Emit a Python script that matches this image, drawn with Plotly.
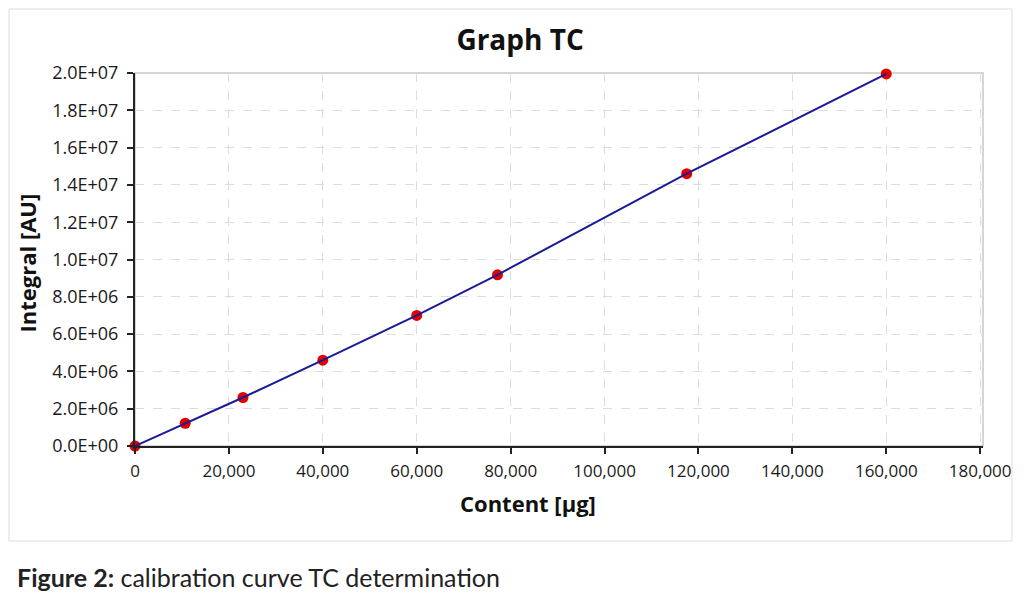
import plotly.graph_objects as go

# calibration points
content_ug = [0, 10700, 23000, 40000, 60000, 77200, 117500, 160000]
integral_au = [0, 1.22e6, 2.6e6, 4.6e6, 7.0e6, 9.18e6, 14.6e6, 19.95e6]

y_tick_vals = [0, 2e6, 4e6, 6e6, 8e6, 1e7, 1.2e7, 1.4e7, 1.6e7, 1.8e7, 2e7]
y_tick_text = ["0.0E+00", "2.0E+06", "4.0E+06", "6.0E+06", "8.0E+06", "1.0E+07",
               "1.2E+07", "1.4E+07", "1.6E+07", "1.8E+07", "2.0E+07"]
x_tick_vals = [0, 20000, 40000, 60000, 80000, 100000, 120000, 140000, 160000, 180000]
x_tick_text = ["0", "20,000", "40,000", "60,000", "80,000", "100,000",
               "120,000", "140,000", "160,000", "180,000"]

font = "Open Sans"

fig = go.Figure()
fig.add_trace(go.Scatter(
    x=content_ug, y=integral_au, mode="markers",
    marker=dict(color="#e00000", size=11),
    cliponaxis=False, showlegend=False,
))
fig.add_trace(go.Scatter(
    x=content_ug, y=integral_au, mode="lines",
    line=dict(color="#1a1a96", width=2),
    cliponaxis=False, showlegend=False,
))

axis_common = dict(
    showgrid=True, gridcolor="#dcdcdc", griddash="dash", gridwidth=1,
    showline=True, linecolor="#222222", linewidth=2,
    ticks="outside", ticklen=6, tickcolor="#222222", tickwidth=2,
    zeroline=False,
)

# page body has an 8px margin
fig.update_layout(
    width=1016, height=590,
    paper_bgcolor="white", plot_bgcolor="white",
    margin=dict(l=127, r=41, t=65, b=152),
    title=dict(text="<b>Graph TC</b>", x=0.504, xanchor="center", y=0.9458, yanchor="middle",
               font=dict(family=font, size=28, color="#111111")),
    xaxis=dict(range=[0, 180600], tickvals=x_tick_vals, ticktext=x_tick_text,
               ticklabelstandoff=3, tickfont=dict(family=font, size=17, color="#1a1a1a"),
               **axis_common),
    yaxis=dict(range=[0, 2e7], tickvals=y_tick_vals, ticktext=y_tick_text,
               ticklabelstandoff=5, tickfont=dict(family=font, size=18, color="#1a1a1a"),
               **axis_common),
    shapes=[
        # grey frame around the plot area
        dict(type="rect", xref="paper", yref="paper", x0=0, x1=1, y0=0, y1=1,
             line=dict(color="#c8c8c8", width=1.5), layer="below"),
        # outer chart border
        dict(type="rect", xref="paper", yref="paper", x0=-0.1486, x1=1.0342,
             y0=-0.2547, y1=1.1716, line=dict(color="#dddddd", width=1)),
    ],
    annotations=[
        dict(text="<b>Content [µg]</b>", xref="paper", yref="paper", x=0.4634, y=-0.153,
             xanchor="center", yanchor="middle", showarrow=False,
             font=dict(family=font, size=22, color="#111111")),
        dict(text="<b>Integral [AU]</b>", xref="paper", yref="paper", x=-0.127, y=0.49,
             xanchor="center", yanchor="middle", textangle=-90, showarrow=False,
             font=dict(family=font, size=22, color="#111111")),
        dict(text="<b>Figure 2:</b> calibration curve TC determination", xref="paper", yref="paper",
             x=-0.1414, y=-0.351, xanchor="left", yanchor="middle", showarrow=False,
             font=dict(family="Lato", size=25, color="#222222")),
    ],
)

fig.write_html("out.html")
